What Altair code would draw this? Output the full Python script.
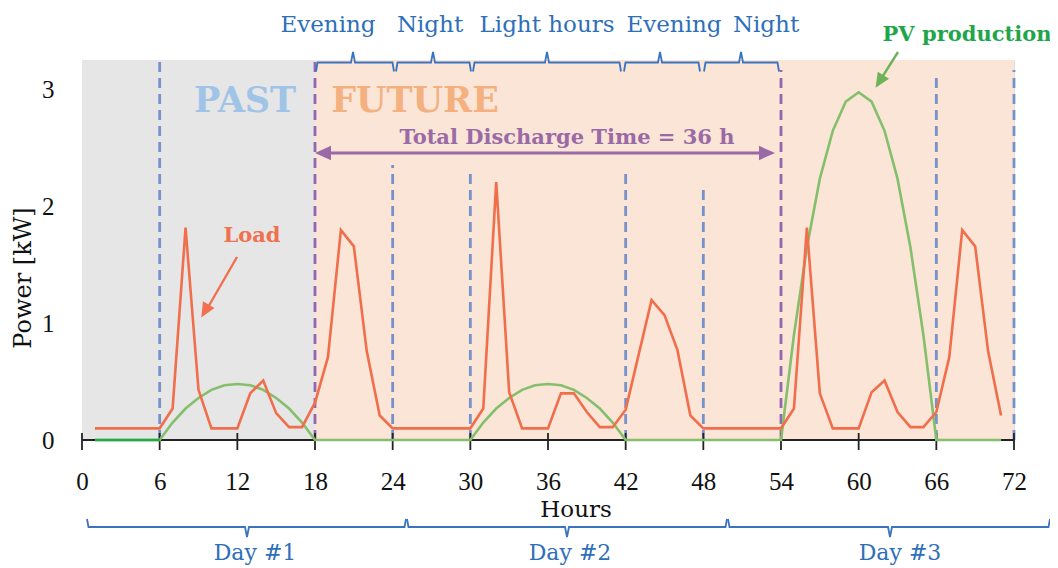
import altair as alt
import pandas as pd

# ---------------- data ----------------
hours = list(range(1, 72))
load_kw = [0.1, 0.1, 0.1, 0.1, 0.1, 0.1,
           0.27, 1.82, 0.43, 0.1, 0.1, 0.1, 0.4, 0.51, 0.23, 0.11, 0.11, 0.32, 0.71, 1.80, 1.66, 0.76, 0.21,
           0.1, 0.1, 0.1, 0.1, 0.1, 0.1, 0.1,
           0.27, 2.21, 0.41, 0.1, 0.1, 0.1, 0.4, 0.4, 0.24, 0.11, 0.11, 0.26, 0.73, 1.2, 1.07, 0.77, 0.21,
           0.1, 0.1, 0.1, 0.1, 0.1, 0.1, 0.1,
           0.27, 1.82, 0.4, 0.1, 0.1, 0.1, 0.41, 0.51, 0.24, 0.11, 0.11, 0.24, 0.71, 1.80, 1.66, 0.76, 0.21]
pv_kw = [0, 0, 0, 0, 0, 0,
         0.15, 0.27, 0.36, 0.43, 0.47, 0.48, 0.47, 0.43, 0.36, 0.27, 0.15, 0,
         0, 0, 0, 0, 0, 0, 0, 0, 0, 0, 0, 0,
         0.15, 0.27, 0.36, 0.43, 0.47, 0.48, 0.47, 0.43, 0.36, 0.27, 0.15, 0,
         0, 0, 0, 0, 0, 0, 0, 0, 0, 0, 0, 0,
         0.9, 1.65, 2.24, 2.65, 2.9, 2.98, 2.9, 2.65, 2.24, 1.65, 0.9, 0,
         0, 0, 0, 0, 0]
assert len(load_kw) == 71 and len(pv_kw) == 71

x_tick_values = [0, 6, 12, 18, 24, 30, 36, 42, 48, 54, 60, 66, 72]
y_tick_values = [0, 1, 2, 3]
blue_dash_hours = [6, 24, 30, 42, 48, 66, 72]
purple_dash_hours = [18, 54]
period_labels = ["Evening", "Night", "Light hours", "Evening", "Night"]
day_labels = ["Day #1", "Day #2", "Day #3"]

# ---------------- layout helpers ----------------
PW, PH = 932, 380
X_MAX = 72.0
Y_MAX = 3.257
HPX = PW / X_MAX          # px per hour
KPX = PH / Y_MAX          # px per kW


def hx(px):               # page x pixel -> hours
    return (px - 82) / HPX


def ky(py):               # page y pixel -> kW
    return (440 - py) / KPX


SERIF = "DejaVu Serif"
NUMF = "Liberation Serif"

xs = alt.Scale(domain=[0, X_MAX], nice=False, zero=False)
ys = alt.Scale(domain=[0, Y_MAX], nice=False, zero=False)
X = alt.X("x:Q", scale=xs, title=None,
          axis=alt.Axis(values=x_tick_values, ticks=False, domain=False, grid=False,
                        labelFont=NUMF, labelFontSize=25, labelColor="#111111",
                        labelPadding=29, labelFlush=False, title=None))
Y = alt.Y("y:Q", scale=ys, title=None,
          axis=alt.Axis(values=y_tick_values, ticks=False, domain=False, grid=False,
                        labelFont=NUMF, labelFontSize=25, labelColor="#111111",
                        labelPadding=28, title=None))

# background regions
bg = pd.DataFrame({"x": [0, 18], "x2": [18, 72], "y": [0, 0], "y2": [Y_MAX, Y_MAX],
                   "c": ["past", "future"]})
bg_layer = alt.Chart(bg).mark_rect().encode(
    x=X, x2="x2:Q", y=Y, y2="y2:Q",
    color=alt.Color("c:N", scale=alt.Scale(domain=["past", "future"], range=["#e6e6e6", "#fbe5d6"]),
                    legend=None))

# dashed vertical lines
blue_tops = [Y_MAX, ky(165), ky(170), ky(170), ky(185), ky(73), ky(70)]
bd = pd.DataFrame({"x": blue_dash_hours, "y": [0] * len(blue_dash_hours), "y2": blue_tops})
blue_rules = alt.Chart(bd).mark_rule(color="#7592ca", strokeWidth=2.8, strokeDash=[10, 6]).encode(
    x=X, y=Y, y2="y2:Q")
pd_df = pd.DataFrame({"x": purple_dash_hours, "y": [0, 0], "y2": [ky(62), ky(70)]})
purple_rules = alt.Chart(pd_df).mark_rule(color="#9466b0", strokeWidth=2.8, strokeDash=[10, 6]).encode(
    x=X, y=Y, y2="y2:Q")

# x axis line and crossing ticks
axis_line = alt.Chart(pd.DataFrame({"x": [0], "x2": [72], "y": [0]})).mark_rule(
    color="#222222", strokeWidth=1.8).encode(x=X, x2="x2:Q", y=Y)
tick_df = pd.DataFrame({"x": x_tick_values, "y": [ky(450)] * len(x_tick_values),
                        "y2": [ky(433)] * len(x_tick_values)})
tick_rules = alt.Chart(tick_df).mark_rule(color="#222222", strokeWidth=1.8).encode(
    x=X, y=Y, y2="y2:Q")

# series
load_df = pd.DataFrame({"x": hours, "y": load_kw})
pv_df = pd.DataFrame({"x": hours, "y": pv_kw})
pv_line = alt.Chart(pv_df).mark_line(color="#84bf6c", strokeWidth=2.6).encode(x=X, y=Y)
pv_night = alt.Chart(pv_df).transform_filter("datum.x <= 6").mark_line(
    color="#1faa48", strokeWidth=2.6).encode(x=X, y=Y)
load_line = alt.Chart(load_df).mark_line(color="#f06e4c", strokeWidth=2.6).encode(x=X, y=Y)

# arrows
ARROW = "M0,-1L0.9,1L-0.9,1Z"


def seg(x0, y0, x1, y1, color, width=2.6):
    d = pd.DataFrame({"x": [x0], "y": [y0], "x2": [x1], "y2": [y1]})
    return alt.Chart(d).mark_rule(color=color, strokeWidth=width).encode(x=X, y=Y, x2="x2:Q", y2="y2:Q")


def head(x, y, angle, color, size=256):
    d = pd.DataFrame({"x": [x], "y": [y], "a": [angle]})
    return alt.Chart(d).mark_point(shape=ARROW, filled=True, color=color, opacity=1,
                                   size=size, strokeWidth=0).encode(
        x=X, y=Y, angle=alt.Angle("a:Q", scale=None))


PURP = "#9a6aa6"
arrows = [
    seg(hx(322), ky(153), hx(768), ky(153), PURP, 3),
    head(hx(323), ky(153), 270, PURP),
    head(hx(767), ky(153), 90, PURP),
    seg(hx(237), ky(257), hx(207), ky(309), "#f07050", 2.4),
    head(hx(205), ky(311), 210, "#f07050", 220),
    seg(hx(898), ky(52), hx(881), ky(79), "#6fb25a", 2.4),
    head(hx(879.5), ky(81.5), 212, "#6fb25a", 220),
]

# braces
rows = []


def brace(bid, px0, pxc, px1, py_h, py_end, py_tip):
    pts = [(px0, py_end), (px0 + 1.5, py_h), (pxc - 2, py_h), (pxc, py_tip),
           (pxc + 2, py_h), (px1 - 1.5, py_h), (px1, py_end)]
    for i, (a, b) in enumerate(pts):
        rows.append({"id": bid, "o": i, "x": hx(a), "y": ky(b)})


top_spans = [(316, 353, 394), (396, 433, 471), (473, 547, 621), (624, 660, 700), (704, 741, 779)]
for i, (a, c, b) in enumerate(top_spans):
    brace("t%d" % i, a, c, b, 62.5, 71.5, 52)
bottom_spans = [(87, 247, 406), (407, 567, 727), (728, 890, 1050)]
for i, (a, c, b) in enumerate(bottom_spans):
    brace("b%d" % i, a, c, b, 527, 519, 537)
braces = alt.Chart(pd.DataFrame(rows)).mark_line(color="#3a74c0", strokeWidth=1.8).encode(
    x=X, y=Y, detail="id:N", order="o:Q")


# texts
def txt(labels, xs_px, ys_px, color, size, bold=False, font=SERIF, angle=None):
    d = pd.DataFrame({"x": [hx(v) for v in xs_px], "y": [ky(v) for v in ys_px], "t": labels})
    kw = dict(font=font, fontSize=size, color=color, fontWeight="bold" if bold else "normal",
              align="center", baseline="middle")
    if angle is not None:
        kw["angle"] = angle
    return alt.Chart(d).mark_text(**kw).encode(x=X, y=Y, text="t:N")


texts = [
    txt(period_labels, [328, 430, 547, 674, 766], [25, 25, 25, 25, 25], "#2e6fba", 23),
    txt(["PAST"], [245], [101], "#9fc4e7", 35, True),
    txt(["FUTURE"], [415], [101], "#f4b07f", 35, True),
    txt(["Total Discharge Time = 36 h"], [567], [138], PURP, 21, True),
    txt(["Load"], [252], [236], "#f07050", 21, True),
    txt(["PV production"], [967], [35], "#1fa64a", 21, True),
    txt(["Hours"], [576], [510], "#111111", 23),
    txt(day_labels, [255, 570, 900], [553, 553, 553], "#2e6fba", 22),
    txt(["Power [kW]"], [24], [278], "#111111", 24, angle=270),
]

chart = alt.layer(
    bg_layer, blue_rules, purple_rules, axis_line, tick_rules,
    pv_line, pv_night, load_line, *arrows, braces, *texts
).properties(
    width=PW, height=PH,
    autosize=alt.AutoSizeParams(type="none"),
    padding={"left": 74, "top": 52, "right": 36, "bottom": 126},
).configure_view(stroke=None).configure(background="white")

chart.save("out.html", embed_options={"renderer": "svg", "actions": False})
